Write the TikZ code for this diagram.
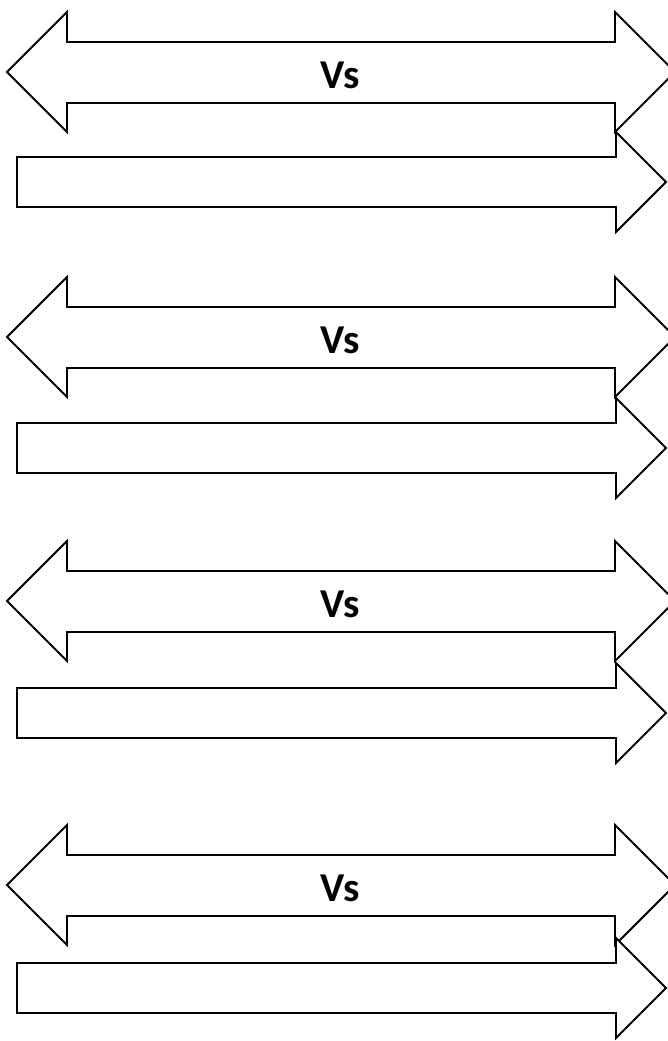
\documentclass[tikz,border=0pt]{standalone}
\usepackage{fontspec}
\newfontfamily\labelfont{Carlito}
\usetikzlibrary{positioning}

\tikzset{
  blockarrow/.style={draw=black, fill=white, line width=1.8pt, line join=miter},
  vslabel/.style={font=\labelfont\bfseries\fontsize{41}{44}\selectfont, inner sep=0pt}
}

\begin{document}
\begin{tikzpicture}[x=1pt, y=-1pt]
  \useasboundingbox (0,0) rectangle (668,1041);
  \clip (0,0) rectangle (668,1041);
  % double arrow centre / single arrow centre
  \foreach \dc/\sc [count=\i] in {72/182, 337/448, 601/713, 885/988}
  {
    \draw[blockarrow] (7,\dc) -- (67,{\dc-60}) -- (67,{\dc-30}) -- (615,{\dc-30})
      -- (615,{\dc-60}) -- (675,\dc) -- (615,{\dc+60}) -- (615,{\dc+31})
      -- (67,{\dc+31}) -- (67,{\dc+60}) -- cycle;
    \draw[blockarrow] (17,{\sc-25}) -- (616,{\sc-25}) -- (616,{\sc-50}) -- (666,\sc)
      -- (616,{\sc+50}) -- (616,{\sc+25}) -- (17,{\sc+25}) -- cycle;
    \node[vslabel] (vs\i) at (340,{\dc+3}) {Vs};
  }
\end{tikzpicture}
\end{document}
